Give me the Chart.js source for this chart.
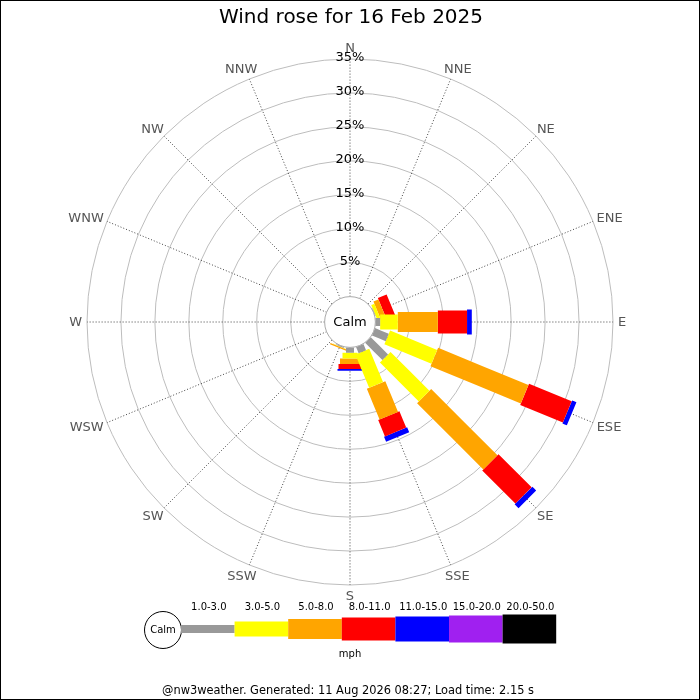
<!DOCTYPE html>
<html>
<head>
<meta charset="utf-8">
<script src="https://cdn.jsdelivr.net/npm/chart.js@4/dist/chart.umd.min.js"></script>
<style>
  html, body { margin: 0; padding: 0; background: #fff; }
  #rose { display: block; }
</style>
</head>
<body>
<canvas id="rose" width="700" height="700"></canvas>
<script>
const titleText = 'Wind rose for 16 Feb 2025';
const footerText = '@nw3weather. Generated: 11 Aug 2026 08:27; Load time: 2.15 s';
const unitText = 'mph';
const calmLabel = 'Calm';

const directions = ['N', 'NNE', 'NE', 'ENE', 'E', 'ESE', 'SE', 'SSE',
  'S', 'SSW', 'SW', 'WSW', 'W', 'WNW', 'NW', 'NNW'];
const speedBins = ['1.0-3.0', '3.0-5.0', '5.0-8.0', '8.0-11.0', '11.0-15.0', '15.0-20.0', '20.0-50.0'];

// percentage of the day per direction, one array per speed band
const pct1to3   = [0, 0, 0, 0.1, 0.7, 2.2, 3.6, 1.0, 0.8, 0.15, 0, 0, 0, 0, 0, 0];
const pct3to5   = [0, 0, 0, 0.5, 2.6, 7.5, 8.1, 5.3, 0.85, 0.05, 0, 0, 0, 0, 0, 0];
const pct5to8   = [0, 0, 0, 0.8, 5.9, 14.4, 13.8, 4.9, 0.8, 0.2, 0, 0, 0, 0, 0, 0];
const pct8to11  = [0, 0, 0, 1.4, 4.3, 6.8, 6.9, 2.6, 0.75, 0, 0, 0, 0, 0, 0, 0];
const pct11to15 = [0, 0, 0, 0, 0.7, 0.7, 0.8, 0.8, 0.25, 0, 0, 0, 0, 0, 0, 0];
const pct15to20 = [0, 0, 0, 0, 0, 0, 0, 0, 0, 0, 0, 0, 0, 0, 0, 0];
const pct20to50 = [0, 0, 0, 0, 0, 0, 0, 0, 0, 0, 0, 0, 0, 0, 0, 0];

const ringTicks = [5, 10, 15, 20, 25, 30, 35];
const tickLabels = ['5%', '10%', '15%', '20%', '25%', '30%', '35%'];

// styles
const bandColors = ['#999999', '#ffff00', '#ffa500', '#ff0000', '#0000ff', '#a020f0', '#000000'];
const bandWidths = [8, 15, 20, 23, 25, 27, 29];
const calmOffset = 3.74;   // radius of the calm circle, in % units
const maxPct = 35;
const font = 'DejaVu Sans';

const bands = [pct1to3, pct3to5, pct5to8, pct8to11, pct11to15, pct15to20, pct20to50];

function toXY(dirIndex, pct) {
  const a = dirIndex * 22.5 * Math.PI / 180;
  const r = calmOffset + pct;
  return { x: r * Math.sin(a), y: r * Math.cos(a) };
}

const datasets = bands.map((band, k) => {
  const pts = [];
  band.forEach((val, i) => {
    if (val <= 0) return;
    let base = 0;
    for (let j = 0; j < k; j++) base += bands[j][i];
    // two ends of the segment, then a gap
    pts.push(toXY(i, base), toXY(i, base + val), { x: null, y: null });
  });
  return {
    label: speedBins[k],
    data: pts,
    showLine: true,
    spanGaps: false,
    borderColor: bandColors[k],
    borderWidth: bandWidths[k],
    borderCapStyle: 'butt',
    pointRadius: 0,
    tension: 0.0001, // keeps chart.js off its fast path, which merges near-vertical segments
  };
});

const lim = calmOffset + maxPct;

const roseGrid = {
  id: 'roseGrid',
  beforeDatasetsDraw(chart) {
    const { ctx } = chart;
    const xs = chart.scales.x, ys = chart.scales.y;
    const cx = xs.getPixelForValue(0), cy = ys.getPixelForValue(0);
    const px = v => xs.getPixelForValue(v) - cx;
    ctx.save();
    ctx.strokeStyle = '#bdbdbd';
    ctx.lineWidth = 1;
    ringTicks.forEach(t => {
      ctx.beginPath();
      ctx.arc(cx, cy, px(calmOffset + t), 0, Math.PI * 2);
      ctx.stroke();
    });
    ctx.strokeStyle = '#444';
    ctx.setLineDash([1, 2]);
    const r0 = px(calmOffset), r1 = px(lim);
    directions.forEach((d, i) => {
      const a = i * 22.5 * Math.PI / 180;
      ctx.beginPath();
      ctx.moveTo(cx + r0 * Math.sin(a), cy - r0 * Math.cos(a));
      ctx.lineTo(cx + r1 * Math.sin(a), cy - r1 * Math.cos(a));
      ctx.stroke();
    });
    ctx.restore();
  },
  afterDraw(chart) {
    const { ctx } = chart;
    const xs = chart.scales.x, ys = chart.scales.y;
    const cx = xs.getPixelForValue(0), cy = ys.getPixelForValue(0);
    const px = v => xs.getPixelForValue(v) - cx;
    ctx.save();

    // calm circle
    ctx.beginPath();
    ctx.arc(cx, cy, px(calmOffset), 0, Math.PI * 2);
    ctx.fillStyle = '#fff';
    ctx.fill();
    ctx.strokeStyle = '#aaa';
    ctx.lineWidth = 1;
    ctx.stroke();
    ctx.fillStyle = '#000';
    ctx.textAlign = 'center';
    ctx.textBaseline = 'middle';
    ctx.font = '13px "' + font + '"';
    ctx.fillText(calmLabel, cx, cy + 1);

    // compass labels, pushed out by half their size
    ctx.fillStyle = '#555';
    const rl = px(lim) + 5;
    directions.forEach((d, i) => {
      const a = i * 22.5 * Math.PI / 180;
      const w = ctx.measureText(d).width;
      const x = cx + rl * Math.sin(a) + (w / 2) * Math.sin(a);
      const y = cy + 1 - rl * Math.cos(a) - 6 * Math.cos(a);
      ctx.fillText(d, x, y);
    });

    // ring labels
    ctx.fillStyle = '#000';
    ringTicks.forEach((t, i) => {
      ctx.fillText(tickLabels[i], cx, cy - px(calmOffset + t) - 1);
    });

    // title
    ctx.font = '20px "' + font + '"';
    ctx.fillText(titleText, 351, 18);

    // legend
    const lx = 181, lw = 53.6, ly = 629;
    ctx.beginPath();
    ctx.arc(163, 630, 18.5, 0, Math.PI * 2);
    ctx.strokeStyle = '#000';
    ctx.lineWidth = 1;
    ctx.stroke();
    ctx.font = '10px "' + font + '"';
    ctx.fillText(calmLabel, 163, 630);
    speedBins.forEach((b, k) => {
      ctx.fillStyle = bandColors[k];
      ctx.fillRect(lx + k * lw, ly - bandWidths[k] / 2, lw, bandWidths[k]);
      ctx.fillStyle = '#000';
      ctx.font = '10px "' + font + '"';
      ctx.fillText(b, lx + k * lw + lw / 2 + 1, 607);
    });
    ctx.font = '10px "' + font + '"';
    ctx.fillText(unitText, 350, 654);
    ctx.font = '11.4px "' + font + '"';
    ctx.fillText(footerText, 348, 691);

    // frame
    ctx.strokeStyle = '#000';
    ctx.strokeRect(0.5, 0.5, 699, 699);
    ctx.restore();
  }
};

new Chart(document.getElementById('rose'), {
  type: 'scatter',
  data: { datasets: datasets },
  options: {
    responsive: false,
    animation: false,
    events: [],
    devicePixelRatio: 1,
    layout: { padding: { left: 87, right: 87, top: 59, bottom: 115 } },
    scales: {
      x: { type: 'linear', min: -lim, max: lim, display: false },
      y: { type: 'linear', min: -lim, max: lim, display: false },
    },
    plugins: {
      legend: { display: false },
      title: { display: false },
      tooltip: { enabled: false },
    },
  },
  plugins: [roseGrid],
});
</script>
</body>
</html>
